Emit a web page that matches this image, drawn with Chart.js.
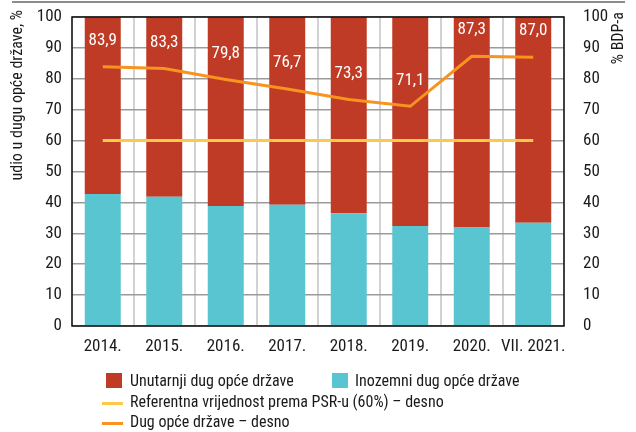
<!DOCTYPE html>
<html lang="hr">
<head>
<meta charset="utf-8">
<title>Dug opće države</title>
<script src="https://cdn.jsdelivr.net/npm/chart.js@4.4.1/dist/chart.umd.min.js"></script>
<style>
  body { margin: 0; background: #fff; }
  #wrap { position: relative; width: 636px; height: 432px; font-family: 'Roboto Condensed', 'DejaVu Sans Condensed', sans-serif; color: #1a1a1a; }
  #chart { position: absolute; left: 0; top: 0; }
  .lg { position: absolute; font-size: 16px; line-height: 18px; white-space: nowrap; }
  .box { position: absolute; width: 16px; height: 15px; }
  .ln { position: absolute; width: 21px; height: 3px; }
</style>
</head>
<body>
<div id="wrap">
  <canvas id="chart" width="636" height="432"></canvas>

  <!-- legend -->
  <div class="box" style="left:106px; top:373px; background:#c03b25;"></div>
  <div class="lg" style="left:130px; top:372px;">Unutarnji dug opće države</div>
  <div class="box" style="left:332px; top:373px; background:#58c5d0;"></div>
  <div class="lg" style="left:355px; top:372px;">Inozemni dug opće države</div>
  <div class="ln" style="left:102px; top:402px; background:#fcc94a;"></div>
  <div class="lg" style="left:130px; top:393px;">Referentna vrijednost prema PSR-u (60%) – desno</div>
  <div class="ln" style="left:102px; top:422px; background:#f7931e;"></div>
  <div class="lg" style="left:130px; top:413px;">Dug opće države – desno</div>
</div>

<script>
// categories and series
const years = ['2014.', '2015.', '2016.', '2017.', '2018.', '2019.', '2020.', 'VII. 2021.'];
const foreignShare = [42.7, 41.8, 38.8, 39.2, 36.5, 32.4, 31.9, 33.4];
const domesticShare = [57.3, 58.2, 61.2, 60.8, 63.5, 67.6, 68.1, 66.6];
const debtGdp = [83.9, 83.3, 79.8, 76.7, 73.3, 71.1, 87.3, 87.0];
const referenceGdp = [60, 60, 60, 60, 60, 60, 60, 60];
const axisTicks = [0, 10, 20, 30, 40, 50, 60, 70, 80, 90, 100];

const FONT = "'Roboto Condensed', 'DejaVu Sans Condensed', sans-serif";
const RED = '#c03b25';
const CYAN = '#58c5d0';
const ORANGE = '#f7931e';
const YELLOW = '#fcc94a';

// value axes: fixed width, no extra room for half tick labels
function fitValueAxis(scale) {
  scale.width = 72;
  scale.paddingTop = 0;
  scale.paddingBottom = 0;
}

// value labels above the debt line, frame and axis titles
const decorations = {
  id: 'decorations',
  afterDatasetsDraw(chart) {
    const ctx = chart.ctx;
    const area = chart.chartArea;
    const meta = chart.getDatasetMeta(3);

    ctx.save();
    ctx.fillStyle = '#fff';
    ctx.font = '17px ' + FONT;
    ctx.textAlign = 'center';
    ctx.textBaseline = 'middle';
    meta.data.forEach((pt, i) => {
      ctx.fillText(debtGdp[i].toFixed(1).replace('.', ','), pt.x, pt.y - 26);
    });

    // plot frame
    ctx.strokeStyle = '#111';
    ctx.lineWidth = 1.5;
    ctx.strokeRect(area.left, area.top, area.right - area.left, area.bottom - area.top);

    // rule across the top
    ctx.strokeStyle = '#666';
    ctx.lineWidth = 1.5;
    ctx.beginPath();
    ctx.moveTo(12, 2);
    ctx.lineTo(625, 2);
    ctx.stroke();

    // axis titles
    ctx.fillStyle = '#1a1a1a';
    ctx.font = '16px ' + FONT;
    ctx.textBaseline = 'middle';
    ctx.textAlign = 'right';
    ctx.save();
    ctx.translate(18, 10);
    ctx.rotate(-Math.PI / 2);
    ctx.fillText('udio u dugu opće države, %', 0, 0);
    ctx.restore();
    ctx.save();
    ctx.translate(619, 12);
    ctx.rotate(-Math.PI / 2);
    ctx.fillText('% BDP-a', 0, 0);
    ctx.restore();
    ctx.restore();
  }
};

new Chart(document.getElementById('chart'), {
  data: {
    labels: years,
    datasets: [
      {
        type: 'bar',
        label: 'Inozemni dug opće države',
        data: foreignShare,
        backgroundColor: CYAN,
        yAxisID: 'y',
        stack: 's',
        order: 2,
        categoryPercentage: 1,
        barPercentage: 0.585
      },
      {
        type: 'bar',
        label: 'Unutarnji dug opće države',
        data: domesticShare,
        backgroundColor: RED,
        yAxisID: 'y',
        stack: 's',
        order: 2,
        categoryPercentage: 1,
        barPercentage: 0.585
      },
      {
        type: 'line',
        label: 'Referentna vrijednost prema PSR-u (60%) – desno',
        data: referenceGdp,
        borderColor: YELLOW,
        borderWidth: 3,
        pointRadius: 0,
        tension: 0,
        yAxisID: 'y2',
        order: 1
      },
      {
        type: 'line',
        label: 'Dug opće države – desno',
        data: debtGdp,
        borderColor: ORANGE,
        borderWidth: 3,
        pointRadius: 0,
        tension: 0,
        yAxisID: 'y2',
        order: 0
      }
    ]
  },
  options: {
    responsive: false,
    animation: false,
    devicePixelRatio: 1,
    layout: { padding: { top: 17, left: 0, right: 0, bottom: 0 } },
    plugins: {
      legend: { display: false },
      tooltip: { enabled: false }
    },
    scales: {
      x: {
        stacked: true,
        offset: true,
        grid: { offset: true, color: '#d2d2d2', lineWidth: 2, drawTicks: false },
        border: { display: false },
        ticks: { color: '#1a1a1a', font: { family: FONT, size: 17 }, padding: 11, maxRotation: 0, autoSkip: false },
        afterFit(scale) { scale.height = 106; }
      },
      y: {
        position: 'left',
        stacked: true,
        min: 0,
        max: 100,
        afterBuildTicks(scale) { scale.ticks = axisTicks.map(v => ({ value: v })); },
        grid: { color: '#9b9b9b', lineWidth: 1.5, drawTicks: false },
        border: { display: false },
        ticks: { color: '#1a1a1a', font: { family: FONT, size: 17 }, padding: 10 },
        afterFit: fitValueAxis
      },
      y2: {
        position: 'right',
        min: 0,
        max: 100,
        afterBuildTicks(scale) { scale.ticks = axisTicks.map(v => ({ value: v })); },
        grid: { display: false, drawTicks: false },
        border: { display: false },
        ticks: { color: '#1a1a1a', font: { family: FONT, size: 17 }, padding: 19 },
        afterFit: fitValueAxis
      }
    }
  },
  plugins: [decorations]
});
</script>
</body>
</html>
